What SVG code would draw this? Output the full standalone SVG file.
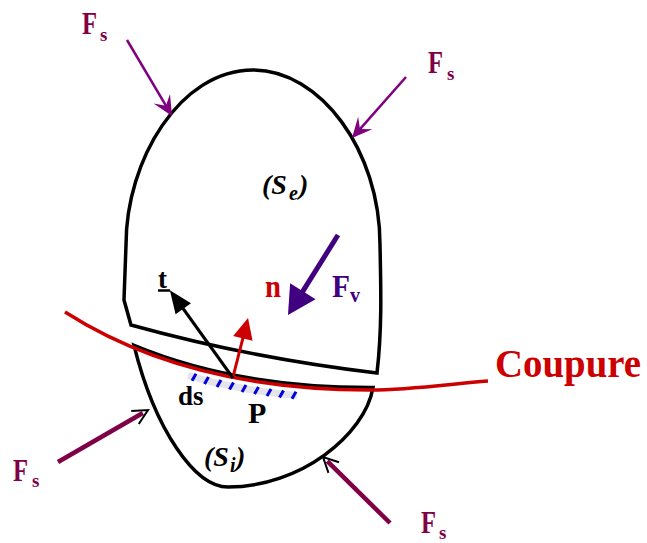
<svg xmlns="http://www.w3.org/2000/svg" width="647" height="543" viewBox="0 0 647 543">
<style>
text{font-family:"Liberation Serif","Times New Roman",serif;font-weight:bold}
.it{font-style:italic}
.fs{fill:#800046}
.body{fill:none;stroke:#000;stroke-width:3.5}
.cut{fill:none;stroke:#cc0000;stroke-width:3.5}
.ptop{stroke:#800080;stroke-width:2.5;fill:none}
.pbot{stroke:#800046;stroke-width:4.5;fill:none}
.slash{stroke:#0000dd;stroke-width:3}
</style>
<defs>
<marker id="stealth" markerUnits="userSpaceOnUse" viewBox="-22 -12 26 24" markerWidth="26" markerHeight="24" refX="-3" refY="0" orient="auto" overflow="visible">
<path d="M0,0 L-20,-9.5 L-12,0 L-20,9.5 Z" fill="#800080"/>
</marker>
<marker id="chev" markerUnits="userSpaceOnUse" viewBox="-20 -10 30 20" markerWidth="30" markerHeight="20" refX="0" refY="0" orient="auto" overflow="visible">
<path d="M-9,-7.5 L6,0 L-9,7.5" fill="none" stroke="#000" stroke-width="2"/>
</marker>
<marker id="triV" markerUnits="userSpaceOnUse" viewBox="-2 -16 30 32" markerWidth="30" markerHeight="32" refX="0" refY="0" orient="auto" overflow="visible">
<path d="M-1,-15 L27,0 L-1,15 Z" fill="#400080"/>
</marker>
<marker id="triR" markerUnits="userSpaceOnUse" viewBox="-2 -11 24 22" markerWidth="24" markerHeight="22" refX="0" refY="0" orient="auto" overflow="visible">
<path d="M-1,-10 L20,0 L-1,10 Z" fill="#cc0000"/>
</marker>
<marker id="triK" markerUnits="userSpaceOnUse" viewBox="-2 -11 26 22" markerWidth="26" markerHeight="22" refX="0" refY="0" orient="auto" overflow="visible">
<path d="M-1,-9.5 L22,0 L-1,9.5 Z" fill="#000"/>
</marker>
</defs>

<g id="body-Se">
<path class="body" d="M126,245 C126,160 180,70 253,70 C320,70 380,150 380,245 C381,290 382,330 377,373 Q250,358 131,325 L124,300 Z"/>
<text class="it" font-size="28"><tspan x="262" y="194">(S</tspan><tspan x="289" y="200" font-size="20">e</tspan><tspan x="299" y="194">)</tspan></text>
</g>

<g id="body-Si">
<path class="body" d="M134,345.3 C198.4,372 276.4,387.5 370,387.5 L373,387.5 C365,435 300,487 228,487 C195,487 155,430 134,345.3 Z"/>
<text class="it" font-size="28"><tspan x="204" y="466">(S</tspan><tspan x="230" y="472" font-size="20">i</tspan><tspan x="236" y="466">)</tspan></text>
</g>

<g id="coupure">
<path class="cut" d="M65,312 C140,360 240,390 370,390 C410,390 450,384 488,381"/>
<text x="495" y="377" font-size="40" fill="#cc0000" textLength="146" lengthAdjust="spacingAndGlyphs">Coupure</text>
</g>

<g id="ds-element">
<polyline points="188,375.4 197,378 212,382 228,385.4 244,388.5 261,391.3 278,393.5 297,395.6" fill="none" stroke="#e4e4ea" stroke-width="7"/>
<line class="slash" x1="196" y1="373.7" x2="192" y2="380.7"/>
<line class="slash" x1="208.5" y1="377" x2="204.5" y2="384"/>
<line class="slash" x1="221" y1="380" x2="217" y2="387"/>
<line class="slash" x1="233.5" y1="382.6" x2="229.5" y2="389.6"/>
<line class="slash" x1="246" y1="385" x2="242" y2="392"/>
<line class="slash" x1="258.5" y1="387.1" x2="254.5" y2="394.1"/>
<line class="slash" x1="271" y1="388.9" x2="267" y2="395.9"/>
<line class="slash" x1="283.5" y1="390.4" x2="279.5" y2="397.4"/>
<line class="slash" x1="296" y1="391.8" x2="292" y2="398.8"/>
<text x="178" y="405" font-size="27">ds</text>
<text x="248" y="423" font-size="30">P</text>
</g>

<g id="connectors">
<line class="ptop" x1="127" y1="40" x2="170.5" y2="113.4" marker-end="url(#stealth)"/>
<line class="ptop" x1="406" y1="77" x2="354" y2="135.8" marker-end="url(#stealth)"/>
<line class="pbot" x1="58" y1="462" x2="142.8" y2="413" marker-end="url(#chev)"/>
<line class="pbot" x1="390" y1="523" x2="327.3" y2="461.2" marker-end="url(#chev)"/>
<line x1="338" y1="235" x2="302.3" y2="292.1" stroke="#400080" stroke-width="5" marker-end="url(#triV)"/>
<line x1="233" y1="377" x2="243.1" y2="337.4" stroke="#cc0000" stroke-width="3" marker-end="url(#triR)"/>
<line x1="233" y1="378" x2="182.7" y2="308" stroke="#000" stroke-width="3" marker-end="url(#triK)"/>
</g>

<g id="labels">
<text class="fs"><tspan x="82" y="34" font-size="31" textLength="15" lengthAdjust="spacingAndGlyphs">F</tspan><tspan x="100" y="41" font-size="19">s</tspan></text>
<text class="fs"><tspan x="428" y="73" font-size="31" textLength="15" lengthAdjust="spacingAndGlyphs">F</tspan><tspan x="447" y="80" font-size="19">s</tspan></text>
<text class="fs"><tspan x="13" y="481" font-size="31" textLength="15" lengthAdjust="spacingAndGlyphs">F</tspan><tspan x="32" y="487" font-size="19">s</tspan></text>
<text class="fs"><tspan x="421" y="533" font-size="31" textLength="15" lengthAdjust="spacingAndGlyphs">F</tspan><tspan x="439" y="539" font-size="19">s</tspan></text>
<text fill="#400080"><tspan x="332" y="297" font-size="31" textLength="18" lengthAdjust="spacingAndGlyphs">F</tspan><tspan x="350" y="302" font-size="20">v</tspan></text>
<text x="265" y="297" font-size="31" fill="#cc0000" textLength="16" lengthAdjust="spacingAndGlyphs">n</text>
<text x="158" y="288" font-size="27">t</text>
<line x1="158" y1="290.5" x2="170" y2="290.5" stroke="#000" stroke-width="2.5"/>
</g>
</svg>
